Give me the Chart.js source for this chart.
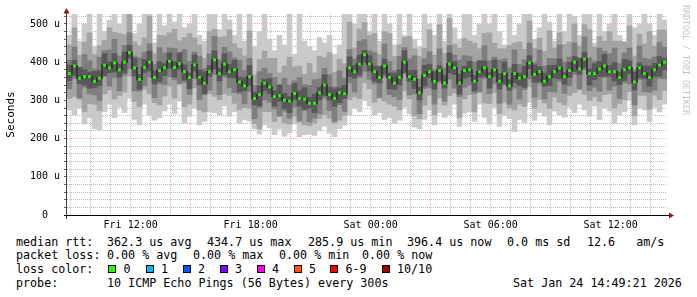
<!doctype html>
<html lang="en">
  <head>
    <meta charset="utf-8">
    <title>SmokePing latency</title>
    <style>
      * { margin: 0; padding: 0; }
      body { background: #fff; width: 697px; height: 297px; position: relative; overflow: hidden; }
      #graph { position: absolute; left: 0; top: 0; }
      .txt {
        position: absolute;
        font-family: "DejaVu Sans Mono", monospace;
        font-size: 11.7px;
        line-height: 14px;
        color: #000;
        white-space: pre;
      }
      .sq {
        position: absolute;
        width: 8px; height: 8px;
        box-sizing: border-box;
        border: 1px solid #000;
      }
      .mark {
        position: absolute;
        left: 681px; top: 5px;
        writing-mode: vertical-rl;
        font-family: "DejaVu Sans Mono", monospace;
        font-size: 8.3px;
        line-height: 10px;
        color: #c4c4c4;
        white-space: pre;
      }
    </style>
  </head>
  <body>
    <canvas id="graph" width="697" height="232"></canvas>
    <div class="mark">RRDTOOL / TOBI OETIKER</div>
    <div id="legend"></div>
    <script src="https://cdn.jsdelivr.net/npm/chart.js"></script>
    <script>
    // time axis: first slot starts Fri 08:49, one slot = 15 min
    const startHour = 8 + 49 / 60;
    const slotHours = 0.25;
    const labelHours = [12, 18, 24, 30, 36];
    const labelText = ['Fri 12:00', 'Fri 18:00', 'Sat 00:00', 'Sat 06:00', 'Sat 12:00'];

    // median rtt (microseconds)
    const medianRtt = [
      370,390,358,362,362,350,358,392,385,398, 380,400,425,385,355,386,400,360,378,385,
      402,386,396,375,360,393,360,345,375,406, 370,395,375,380,348,338,362,305,315,345,
      335,310,312,300,298,318,305,303,292,292, 320,340,315,305,320,318,385,375,395,420,
      395,375,360,390,360,345,360,400,362,355, 320,365,375,350,378,345,395,385,345,378,
      380,350,375,385,362,380,350,370,338,370, 358,362,398,368,375,350,362,375,385,362,
      378,400,382,408,370,370,382,390,375,375, 360,380,385,348,385,370,360,380,392,400
    ];
    // smoke: sorted pings, 1 = fastest, 10 = slowest
    const ping1 = [
      275,262,280,238,255,225,222,270,290,255, 282,268,305,250,236,290,262,248,254,272,
      290,265,298,240,258,280,236,245,270,268, 262,285,258,270,240,250,246,225,212,236,
      228,210,225,206,215,238,205,210,212,208, 220,232,214,205,226,235,262,280,270,300,
      285,262,268,250,255,240,248,282,265,230, 225,250,275,236,268,255,262,290,232,266,
      270,245,290,255,238,282,232,260,252,218, 250,242,295,248,268,258,236,272,262,256,
      282,268,290,275,258,285,250,280,272,240, 262,270,300,236,280,275,245,282,270,290
    ];
    const ping10 = [
      470,530,455,500,530,440,530,480,510,530, 500,530,530,475,500,530,530,450,530,495,
      530,505,530,490,500,530,470,455,530,530, 485,530,510,470,530,455,530,440,480,530,
      460,430,470,445,530,420,530,455,440,430, 465,450,470,420,445,530,530,500,530,530,
      480,530,455,530,500,445,530,470,530,460, 440,530,500,470,530,455,530,490,460,530,
      530,470,500,530,500,530,480,445,530,470, 500,530,530,460,490,530,505,455,530,480,
      530,520,470,530,530,450,530,480,500,530, 470,455,530,490,500,530,500,470,530,510
    ];
    const ping2 = [
      305,310,303,270,292,290,273,317,327,303, 312,322,363,297,283,329,317,294,288,311,
      337,306,341,283,290,333,275,270,317,311, 302,317,313,292,276,281,279,239,225,271,
      270,245,257,240,238,258,242,236,234,240, 252,262,253,240,248,261,302,309,305,346,
      330,295,305,298,290,285,275,325,304,260, 252,287,313,262,306,288,312,319,255,304,
      315,270,320,293,292,320,265,295,280,275, 290,284,336,280,303,293,279,309,295,288,
      313,320,327,316,300,310,297,315,317,280, 292,302,323,260,313,313,277,314,302,326
    ];
    const ping9 = [
      445,490,418,452,477,420,443,457,490,478, 475,472,535,453,443,464,520,422,470,469,
      477,486,456,465,475,463,445,410,480,486, 465,467,485,448,436,416,482,367,407,429,
      410,410,372,390,413,388,390,368,397,372, 415,412,425,373,408,396,505,437,487,504,
      470,475,420,480,475,415,445,465,467,435, 415,437,485,418,498,423,515,447,437,462,
      455,450,435,475,477,450,435,435,443,450, 453,434,508,436,463,428,482,437,477,446,
      453,500,442,498,485,440,467,455,480,455, 455,452,495,416,473,448,480,442,484,484
    ];
    const ping3 = [
      330,358,306,334,317,314,300,362,337,360, 325,366,383,325,324,339,361,307,343,341,
      362,354,344,347,315,357,302,315,327,368, 315,361,333,320,317,291,323,252,280,301,
      295,278,260,272,253,282,247,273,244,254, 265,306,273,245,289,271,346,322,360,376,
      355,343,308,362,315,309,302,370,314,317, 265,331,333,290,347,298,356,332,310,334,
      340,318,323,357,317,344,292,340,290,332, 303,328,356,308,344,303,323,322,350,318,
      338,368,330,380,325,334,324,360,327,337, 305,346,343,288,354,323,321,327,357,356
    ];
    const ping8 = [
      405,440,388,420,404,383,413,430,432,460, 416,444,477,416,412,426,448,394,438,424,
      437,436,426,433,402,426,415,383,422,468, 406,439,427,411,405,378,410,339,375,384,
      370,360,342,358,340,351,360,341,339,354, 356,384,367,336,377,358,433,409,455,459,
      430,425,390,448,402,378,415,438,409,417, 356,409,427,381,435,385,443,419,405,417,
      415,400,405,443,404,413,405,408,385,432, 394,406,450,399,432,390,410,409,445,401,
      413,450,412,466,412,403,437,428,422,437, 396,424,437,379,442,410,408,414,452,439
    ];
    const ping4 = [
      352,365,344,340,332,334,338,365,373,374, 361,372,410,364,329,373,377,343,349,365,
      384,361,382,353,330,377,340,318,363,382, 351,367,360,359,322,325,339,288,286,325,
      317,285,298,278,268,302,285,276,280,268, 301,312,300,284,294,305,362,358,366,400,
      377,350,346,368,330,329,340,373,350,331, 301,337,360,329,352,332,372,368,316,358,
      362,325,361,363,332,364,330,343,326,346, 339,334,383,347,349,337,339,358,356,342,
      360,375,368,386,340,354,362,363,363,351, 341,352,370,327,359,357,337,363,363,380
    ];
    const ping7 = [
      392,405,386,380,374,376,378,422,401,422, 394,427,444,410,368,407,429,377,401,396,
      424,401,424,393,372,419,380,375,391,430, 384,422,394,405,361,359,391,322,338,356,
      357,325,340,318,310,344,325,333,308,316, 334,367,334,330,333,339,414,392,418,431,
      417,390,388,408,372,371,380,430,378,379, 334,392,394,375,391,366,424,402,368,389,
      402,365,403,403,374,406,370,400,354,394, 372,389,417,393,388,371,391,392,408,373,
      400,415,410,426,382,396,402,420,391,399, 374,407,404,373,398,391,389,397,415,411
    ];

    // legend text
    const lossColors = ['#26ff00','#00b8ff','#0059ff','#7e00ff','#ff00ea','#ff5500','#ff0000','#a10000'];
    const lossLabels = ['0','1','2','3','4','5','6-9','10/10'];

    const slotX = i => startHour + (i + 0.5) * slotHours;
    const band = (lo, hi) => lo.map((v, i) => ({ x: slotX(i), y: [v, hi[i]] }));

    function smoke(lo, hi, color, order) {
      return {
        type: 'bar', data: band(lo, hi), backgroundColor: color, borderWidth: 0,
        grouped: false, barPercentage: 1, categoryPercentage: 1, order
      };
    }

    const axisArrows = {
      id: 'axisArrows',
      afterDraw(chart) {
        const { ctx, chartArea: a } = chart;
        ctx.save();
        ctx.lineWidth = 1;
        ctx.strokeStyle = '#000';
        ctx.beginPath();
        ctx.moveTo(a.left - 3, a.bottom + 0.5);
        ctx.lineTo(a.right + 3, a.bottom + 0.5);
        ctx.stroke();
        ctx.strokeStyle = '#404040';
        ctx.beginPath();
        ctx.moveTo(a.left - 0.5, a.bottom + 4);
        ctx.lineTo(a.left - 0.5, a.top - 2);
        ctx.stroke();
        ctx.fillStyle = '#8b1a1a';
        ctx.beginPath();
        ctx.moveTo(a.left - 0.5, a.top - 6);
        ctx.lineTo(a.left - 3.5, a.top - 0.5);
        ctx.lineTo(a.left + 2.5, a.top - 0.5);
        ctx.fill();
        ctx.beginPath();
        ctx.moveTo(a.right + 7, a.bottom + 0.5);
        ctx.lineTo(a.right + 2, a.bottom - 2.5);
        ctx.lineTo(a.right + 2, a.bottom + 3.5);
        ctx.fill();
        ctx.restore();
      }
    };

    const monoFont = { family: 'DejaVu Sans Mono', size: 10 };
    const minorGrid = 'rgba(120,120,120,0.5)';
    const majorGrid = 'rgba(215,40,40,0.32)';

    new Chart(document.getElementById('graph'), {
      type: 'bar',
      data: {
        datasets: [
          {
            type: 'line', order: 0,
            data: medianRtt.map((v, i) => ({ x: slotX(i), y: v })),
            borderColor: '#2c2c2c', borderWidth: 1.5, stepped: 'middle',
            pointStyle: 'rect', pointRadius: 2, pointBorderWidth: 0,
            pointBackgroundColor: '#26ff00'
          },
          smoke(ping4, ping7, '#585858', 1),
          smoke(ping3, ping8, '#7e7e7e', 2),
          smoke(ping2, ping9, '#a4a4a4', 3),
          smoke(ping1, ping10, '#cacaca', 4)
        ]
      },
      options: {
        responsive: false,
        animation: false,
        layout: { padding: { top: 14, right: 30, bottom: 0, left: 0 } },
        plugins: { legend: { display: false }, tooltip: { enabled: false } },
        scales: {
          x: {
            type: 'linear', z: 1, offset: false,
            min: startHour, max: startHour + 30,
            afterBuildTicks: s => {
              const t = [];
              for (let h = 9; h <= 38; h++) t.push({ value: h });
              s.ticks = t;
            },
            ticks: {
              autoSkip: false, maxRotation: 0, padding: 2, color: '#000', font: monoFont,
              callback: v => {
                const k = labelHours.indexOf(v);
                return k < 0 ? '' : labelText[k];
              }
            },
            grid: {
              offset: false, tickLength: 2, tickColor: 'rgba(0,0,0,0)',
              color: c => (c.tick && Math.round(c.tick.value) % 3 === 0) ? majorGrid : minorGrid
            },
            border: { display: false, dash: [1, 1] },
            afterFit: s => { s.height = 17; }
          },
          y: {
            type: 'linear', z: 1, min: 0, max: 526,
            afterBuildTicks: s => {
              const t = [];
              for (let v = 0; v <= 520; v += 20) t.push({ value: v });
              s.ticks = t;
            },
            ticks: {
              autoSkip: false, padding: 4, crossAlign: 'center', color: '#000', font: monoFont,
              callback: v => v % 100 !== 0 ? '' : (v === 0 ? '0' : v + ' u')
            },
            grid: {
              tickLength: 3, tickColor: '#606060',
              color: c => (c.tick && c.tick.value % 100 === 0) ? majorGrid : minorGrid
            },
            border: { display: false, dash: [1, 1] },
            title: {
              display: true, text: 'Seconds', color: '#000',
              font: { family: 'DejaVu Sans Mono', size: 11 },
              padding: { top: 4.4, bottom: 0 }
            },
            afterFit: s => { s.width = 67; }
          }
        }
      },
      plugins: [axisArrows]
    });

    // text lines under the graph
    const legend = document.getElementById('legend');
    function put(x, y, text) {
      const d = document.createElement('div');
      d.className = 'txt';
      d.style.left = x + 'px';
      d.style.top = y + 'px';
      d.textContent = text;
      legend.appendChild(d);
    }
    const rowY = [234.5, 248, 262, 275.5];
    put(16, rowY[0], 'median rtt:');
    put(107, rowY[0], '362.3 us avg');
    put(207, rowY[0], '434.7 us max');
    put(308, rowY[0], '285.9 us min');
    put(407, rowY[0], '396.4 us now');
    put(507, rowY[0], '0.0 ms sd');
    put(587, rowY[0], '12.6   am/s');
    put(16, rowY[1], 'packet loss:');
    put(107, rowY[1], '0.00 % avg');
    put(193, rowY[1], '0.00 % max');
    put(279, rowY[1], '0.00 % min');
    put(362, rowY[1], '0.00 % now');
    put(16, rowY[2], 'loss color:');
    const sqX = [108, 145.5, 182.5, 219.5, 256.5, 293.5, 330, 381.5];
    lossColors.forEach((c, i) => {
      const s = document.createElement('div');
      s.className = 'sq';
      s.style.left = sqX[i] + 'px';
      s.style.top = '265px';
      s.style.background = c;
      legend.appendChild(s);
      put(sqX[i] + 15.5, rowY[2], lossLabels[i]);
    });
    put(16, rowY[3], 'probe:');
    put(107, rowY[3], '10 ICMP Echo Pings (56 Bytes) every 300s');
    put(513, rowY[3], 'Sat Jan 24 14:49:21 2026');
    </script>
  </body>
</html>
